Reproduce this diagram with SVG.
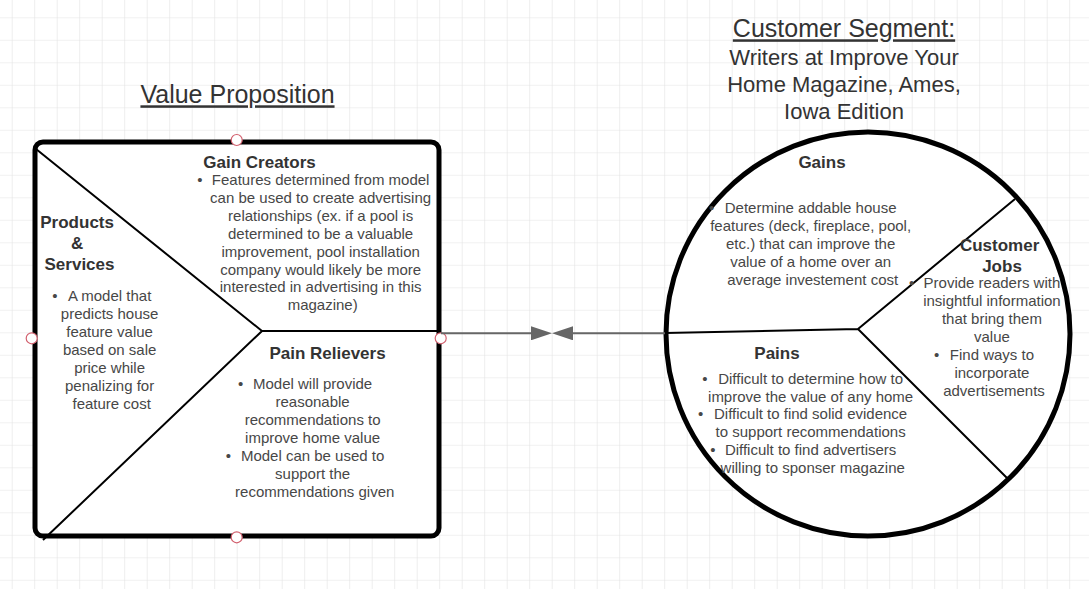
<svg xmlns="http://www.w3.org/2000/svg" width="1089" height="589" viewBox="0 0 1089 589">
  <style>
    text { font-family: "Liberation Sans", Arial, sans-serif; }
    .title { font-size: 25px; fill: #333; text-anchor: middle; text-decoration: underline; }
    .sub { font-size: 22px; fill: #333; text-anchor: middle; }
    .head { font-size: 17px; font-weight: bold; fill: #333; text-anchor: middle; }
    .body { font-size: 15px; fill: #474747; text-anchor: middle; }
    .bullet { font-size: 15px; fill: #474747; text-anchor: middle; }
    .shape { fill: #fff; stroke: #000; stroke-width: 5; }
    .divider { fill: none; stroke: #000; stroke-width: 2; }
    .port { fill: #fff; stroke: #d2606e; stroke-width: 1.2; }
    .link { fill: none; stroke: #666; stroke-width: 2; }
  </style>
  <defs>
    <pattern id="grid" patternUnits="userSpaceOnUse" x="11.7" y="17.3" width="22.5" height="22.5">
      <path d="M 22.5 0 L 0 0 0 22.5" fill="none" stroke="#e3e3e3" stroke-width="1.2"/>
    </pattern>
    <marker id="arrow" viewBox="0 0 21 14" refX="0" refY="7" markerWidth="21" markerHeight="14" markerUnits="userSpaceOnUse" orient="auto">
      <path d="M0,0 L21,7 L0,14 z" fill="#666"/>
    </marker>
  </defs>

  <!-- canvas -->
  <rect width="1089" height="589" fill="#fff"/>
  <rect width="1089" height="589" fill="url(#grid)"/>

  <!-- headings -->
  <g id="title-value-proposition">
    <text class="title" x="237.5" y="103.3">Value Proposition</text>
  </g>
  <g id="title-customer-segment">
    <text class="title" x="844" y="37.3">Customer Segment:</text>
    <text class="sub" x="844" y="65">Writers at Improve Your</text>
    <text class="sub" x="844" y="92.3">Home Magazine, Ames,</text>
    <text class="sub" x="844" y="119">Iowa Edition</text>
  </g>

  <!-- value proposition square -->
  <g id="value-proposition">
    <rect class="shape" x="35" y="142" width="404" height="394" rx="8" ry="8"/>
    <path class="divider" d="M36,149 L262,331 L43,540 M262,331 L439,331"/>

    <g id="vp-gain-creators">
      <text class="head" x="259.5" y="168.3">Gain Creators</text>
      <text class="bullet" x="200" y="185">•</text>
      <text class="body">
        <tspan x="322.7" y="185">Features determined from model</tspan>
        <tspan x="322.7" y="203">can be used to create advertising</tspan>
        <tspan x="322.7" y="221">relationships (ex. if a pool is</tspan>
        <tspan x="322.7" y="239">determined to be a valuable</tspan>
        <tspan x="322.7" y="256.8">improvement, pool installation</tspan>
        <tspan x="322.7" y="274.5">company would likely be more</tspan>
        <tspan x="322.7" y="292.3">interested in advertising in this</tspan>
        <tspan x="322.7" y="310">magazine)</tspan>
      </text>
    </g>

    <g id="vp-products-services">
      <text class="head">
        <tspan x="79.5" y="228.3">Products</tspan>
        <tspan x="79.5" y="249.3">&amp;</tspan>
        <tspan x="79.5" y="270">Services</tspan>
      </text>
      <text class="bullet" x="55" y="301">•</text>
      <text class="body">
        <tspan x="111.7" y="301">A model that</tspan>
        <tspan x="111.7" y="319">predicts house</tspan>
        <tspan x="111.7" y="337">feature value</tspan>
        <tspan x="111.7" y="355">based on sale</tspan>
        <tspan x="111.7" y="373">price while</tspan>
        <tspan x="111.7" y="391">penalizing for</tspan>
        <tspan x="111.7" y="409">feature cost</tspan>
      </text>
    </g>

    <g id="vp-pain-relievers">
      <text class="head" x="327.5" y="359.3">Pain Relievers</text>
      <text class="bullet" x="240.7" y="389">•</text>
      <text class="bullet" x="228.3" y="461">•</text>
      <text class="body">
        <tspan x="314.7" y="389">Model will provide</tspan>
        <tspan x="314.7" y="407">reasonable</tspan>
        <tspan x="314.7" y="425">recommendations to</tspan>
        <tspan x="314.7" y="443">improve home value</tspan>
        <tspan x="314.7" y="461">Model can be used to</tspan>
        <tspan x="314.7" y="479">support the</tspan>
        <tspan x="314.7" y="497">recommendations given</tspan>
      </text>
    </g>

    <!-- connection points -->
    <circle class="port" cx="236.7" cy="140" r="5.5"/>
    <circle class="port" cx="31.7" cy="338.3" r="5.5"/>
    <circle class="port" cx="440.7" cy="338.3" r="5.5"/>
    <circle class="port" cx="236.7" cy="537.3" r="5.5"/>
  </g>

  <!-- customer segment circle -->
  <g id="customer-segment">
    <circle class="shape" cx="868" cy="334" r="202"/>
    <path class="divider" d="M665,333 L858,329 L1015,199 M858,329 L1007,478"/>

    <g id="cs-gains">
      <text class="head" x="822" y="168.3">Gains</text>
      <text class="bullet" x="711.7" y="213.3">•</text>
      <text class="body">
        <tspan x="812.7" y="213.3">Determine addable house</tspan>
        <tspan x="812.7" y="231">features (deck, fireplace, pool,</tspan>
        <tspan x="812.7" y="249">etc.) that can improve the</tspan>
        <tspan x="812.7" y="266.7">value of a home over an</tspan>
        <tspan x="812.7" y="284.5">average investement cost</tspan>
      </text>
    </g>

    <g id="cs-customer-jobs">
      <text class="head">
        <tspan x="1002" y="250.7">Customer</tspan>
        <tspan x="1002" y="271.7">Jobs</tspan>
      </text>
      <text class="bullet" x="911.7" y="288.3">•</text>
      <text class="bullet" x="936.7" y="360">•</text>
      <text class="body">
        <tspan x="994" y="288.3">Provide readers with</tspan>
        <tspan x="994" y="306">insightful information</tspan>
        <tspan x="994" y="324">that bring them</tspan>
        <tspan x="994" y="342">value</tspan>
        <tspan x="994" y="360">Find ways to</tspan>
        <tspan x="994" y="378">incorporate</tspan>
        <tspan x="994" y="396">advertisements</tspan>
      </text>
    </g>

    <g id="cs-pains">
      <text class="head" x="777" y="359.3">Pains</text>
      <text class="bullet" x="705" y="384">•</text>
      <text class="bullet" x="700.7" y="419.3">•</text>
      <text class="bullet" x="713" y="455">•</text>
      <text class="body">
        <tspan x="812.7" y="384">Difficult to determine how to</tspan>
        <tspan x="812.7" y="401.7">improve the value of any home</tspan>
        <tspan x="812.7" y="419.3">Difficult to find solid evidence</tspan>
        <tspan x="812.7" y="437.3">to support recommendations</tspan>
        <tspan x="812.7" y="455">Difficult to find advertisers</tspan>
        <tspan x="812.7" y="472.7">willing to sponser magazine</tspan>
      </text>
    </g>
  </g>

  <!-- connectors -->
  <g id="connectors">
    <path class="link" d="M441,333.3 L531,333.3" marker-end="url(#arrow)"/>
    <path class="link" d="M665,333.3 L573,333.3" marker-end="url(#arrow)"/>
  </g>
</svg>
